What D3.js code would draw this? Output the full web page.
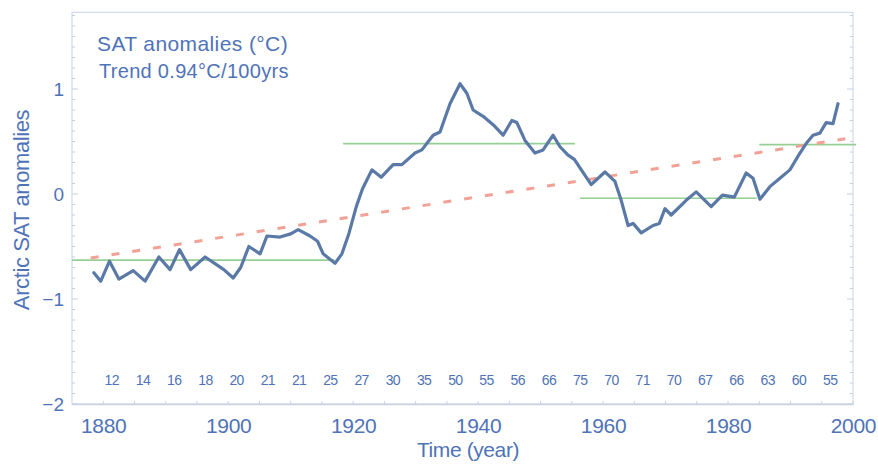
<!DOCTYPE html>
<html>
<head>
<meta charset="utf-8">
<script src="https://cdn.jsdelivr.net/npm/d3@7"></script>
<style>
  html, body { margin: 0; padding: 0; background: #ffffff; }
  svg { display: block; font-family: "Liberation Sans", Arial, sans-serif; }
</style>
</head>
<body>
<svg id="chart" width="878" height="464"></svg>
<script>
// Arctic surface air temperature anomalies (running mean), °C
const years = [1878.5, 1879.6, 1881.0, 1882.5, 1884.8, 1886.7, 1888.9, 1890.7, 1892.2, 1894.0,
  1896.3, 1898.3, 1899.3, 1900.8, 1902.0, 1903.3, 1905.1, 1906.2, 1908.3, 1910.0,
  1911.2, 1913.1, 1914.3, 1915.2, 1917.1, 1918.2, 1919.3, 1920.5, 1921.5, 1923.0,
  1924.5, 1926.4, 1927.8, 1929.9, 1931.0, 1932.8, 1933.9, 1935.5, 1937.1, 1938.2,
  1939.2, 1940.8, 1942.4, 1944.0, 1945.4, 1946.2, 1947.5, 1949.1, 1950.4, 1952.0,
  1953.1, 1954.4, 1955.4, 1958.1, 1960.3, 1961.9, 1962.9, 1964.0, 1964.8, 1966.1,
  1968.0, 1969.0, 1969.9, 1970.9, 1973.3, 1974.9, 1977.3, 1979.1, 1981.0, 1982.9,
  1984.0, 1985.1, 1986.7, 1988.3, 1989.9, 1991.2, 1992.5, 1993.6, 1994.7, 1995.7,
  1996.8, 1997.6];
const anomalies = [-0.75, -0.83, -0.64, -0.81, -0.73, -0.83, -0.60, -0.72, -0.53, -0.72,
  -0.60, -0.68, -0.72, -0.80, -0.70, -0.50, -0.57, -0.40, -0.41, -0.38,
  -0.34, -0.40, -0.45, -0.57, -0.66, -0.57, -0.38, -0.12, 0.05, 0.23,
  0.16, 0.28, 0.28, 0.39, 0.42, 0.56, 0.59, 0.86, 1.05, 0.96,
  0.80, 0.74, 0.66, 0.56, 0.70, 0.68, 0.51, 0.39, 0.42, 0.56,
  0.45, 0.37, 0.33, 0.09, 0.21, 0.12, -0.06, -0.30, -0.28, -0.37,
  -0.30, -0.28, -0.14, -0.20, -0.06, 0.02, -0.12, -0.01, -0.03, 0.20,
  0.15, -0.05, 0.07, 0.15, 0.23, 0.36, 0.48, 0.56, 0.58, 0.68,
  0.67, 0.86];

// Period means (start year, end year, mean anomaly)
const periodStart = [1875, 1918.4, 1956.3, 1985];
const periodEnd   = [1917, 1955.5, 1984.6, 2000.5];
const periodMean  = [-0.63, 0.48, -0.04, 0.47];

// Linear trend: 0.94 °C per 100 years
const trendYears  = [1878, 2000];
const trendValues = [-0.61, 0.537];

// Number of stations per 5-year bin (1880-2000)
const binStarts = d3.range(1880, 2000, 5);
const stationCounts = [12, 14, 16, 18, 20, 21, 21, 25, 27, 30, 35, 50,
  55, 56, 66, 75, 70, 71, 70, 67, 66, 63, 60, 55];

const xTicks = [1880, 1900, 1920, 1940, 1960, 1980, 2000];
const yTicks = [-2, -1, 0, 1];

const textBlue = "#4f73b8";
const frameCol = "#d3dcec";

const svg = d3.select("#chart");
const x = d3.scaleLinear().domain([1875, 2000]).range([72, 853]);
const y = d3.scaleLinear().domain([-2, 1]).range([404, 89]);
const yTop = 1.73;

// Frame
svg.append("rect")
  .attr("x", x(1875)).attr("y", y(yTop))
  .attr("width", x(2000) - x(1875)).attr("height", y(-2) - y(yTop))
  .attr("fill", "none").attr("stroke", frameCol).attr("stroke-width", 1.2);

// Minor ticks on both vertical sides
const minor = d3.range(-2, 1.71, 0.1);
["left", "right"].forEach(side => {
  const x0 = side === "left" ? x(1875) : x(2000);
  const dir = side === "left" ? 1 : -1;
  svg.append("g").selectAll("line").data(minor).join("line")
    .attr("x1", x0).attr("x2", d => x0 + dir * (Math.abs(d - Math.round(d)) < 1e-6 ? 6 : 3))
    .attr("y1", d => y(d)).attr("y2", d => y(d))
    .attr("stroke", "#c3cee2").attr("stroke-width", 1);
});

// Bottom axis
const xAxis = d3.axisBottom(x).tickValues(xTicks).tickFormat(d3.format("d")).tickSize(0).tickPadding(14);
const gx = svg.append("g").attr("transform", `translate(0,${y(-2)})`).call(xAxis);
gx.select(".domain").attr("stroke", "#c6d1e6").attr("stroke-width", 1.5);
gx.selectAll("text").attr("fill", textBlue).attr("font-size", 21).attr("letter-spacing", "-0.3px");
svg.append("g").selectAll("line").data(d3.range(1880, 2001, 5)).join("line")
  .attr("x1", d => x(d)).attr("x2", d => x(d))
  .attr("y1", y(-2)).attr("y2", y(-2) - 3)
  .attr("stroke", "#c6d1e6");

// Left axis labels
const yAxis = d3.axisLeft(y).tickValues(yTicks).tickFormat(d3.format("d")).tickSize(0).tickPadding(8);
const gy = svg.append("g").attr("transform", `translate(${x(1875)},0)`).call(yAxis);
gy.select(".domain").remove();
gy.selectAll("text").attr("fill", textBlue).attr("font-size", 19);

// Axis titles
svg.append("text")
  .attr("transform", `translate(29,${210}) rotate(-90)`)
  .attr("text-anchor", "middle").attr("fill", textBlue).attr("font-size", 22)
  .attr("letter-spacing", "-0.4px")
  .text("Arctic SAT anomalies");
svg.append("text")
  .attr("x", 468).attr("y", 457)
  .attr("text-anchor", "middle").attr("fill", textBlue).attr("font-size", 21)
  .attr("letter-spacing", "-0.4px")
  .text("Time (year)");

// Annotation in the upper left
svg.append("text").attr("x", 97).attr("y", 51)
  .attr("fill", textBlue).attr("font-size", 21).attr("letter-spacing", "0.4px").text("SAT anomalies (°C)");
svg.append("text").attr("x", 99).attr("y", 78)
  .attr("fill", textBlue).attr("font-size", 20).attr("letter-spacing", "0.3px").text("Trend 0.94°C/100yrs");

// Station counts
svg.append("g").selectAll("text").data(stationCounts).join("text")
  .attr("x", (d, i) => x(binStarts[i] + 1.35))
  .attr("y", 385)
  .attr("text-anchor", "middle").attr("fill", textBlue).attr("font-size", 14)
  .attr("letter-spacing", "-0.6px")
  .text(d => d);

// Period means
svg.append("g").selectAll("line").data(periodMean).join("line")
  .attr("x1", (d, i) => x(periodStart[i])).attr("x2", (d, i) => Math.min(x(periodEnd[i]), x(2000) + 3))
  .attr("y1", d => y(d)).attr("y2", d => y(d))
  .attr("stroke", "#96cf96").attr("stroke-width", 1.6);

// Trend line
svg.append("line")
  .attr("x1", x(trendYears[0])).attr("y1", y(trendValues[0]))
  .attr("x2", x(trendYears[1])).attr("y2", y(trendValues[1]))
  .attr("stroke", "#f2a197").attr("stroke-width", 3)
  .attr("stroke-dasharray", "8,13");

// Anomaly curve
const line = d3.line().x(d => x(d[0])).y(d => y(d[1])).curve(d3.curveLinear);
svg.append("path")
  .datum(years.map((yr, i) => [yr, anomalies[i]]))
  .attr("d", line)
  .attr("fill", "none").attr("stroke", "#5a79a6").attr("stroke-width", 3.2)
  .attr("stroke-linejoin", "round").attr("stroke-linecap", "round");
</script>
</body>
</html>
